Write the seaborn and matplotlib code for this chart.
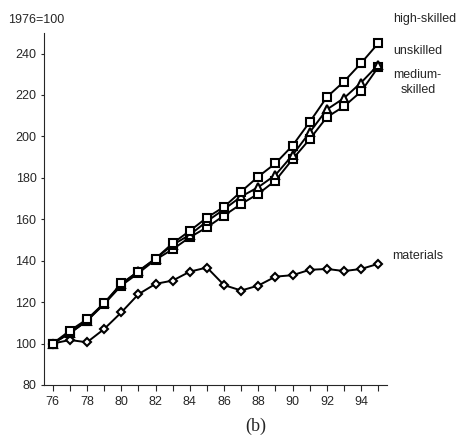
import seaborn as sns
import matplotlib.pyplot as plt
from matplotlib.ticker import MultipleLocator

# Index values, 1976 = 100
years = list(range(76, 96))
high_skilled = [100, 106.2, 111.7, 119.5, 129, 134.7, 141, 148.4, 154.4, 160.8,
                166, 173.4, 180.6, 187, 195.6, 207, 219, 226.5, 235.4, 245]
medium_skilled = [100, 105, 111, 119.5, 128.5, 135, 141, 147.6, 152.5, 159,
                  164.8, 171, 175.5, 181.4, 191, 202, 213, 218.5, 226, 234.6]
unskilled = [100, 105, 111, 119, 128, 134, 140.5, 145.5, 151.3, 156.1,
             161.8, 167.4, 172.3, 178.7, 189, 198.7, 209.3, 214.5, 221.7, 233.5]
materials = [100, 101.7, 100.6, 107, 115, 123.8, 128.8, 130.4, 134.7, 136.7,
             128.2, 125.6, 128, 132.3, 133, 135.6, 136, 135, 136, 138.5]

sns.set_style('ticks')
plt.rcParams['font.family'] = ['Liberation Sans', 'DejaVu Sans']

fig = plt.figure(figsize=(4.6, 4.44), dpi=100)
ax = fig.add_axes([0.096, 0.133, 0.745, 0.793])

# (values, marker, marker size)
lines = [(materials, 'D', 4.2), (unskilled, 's', 5.8),
         (medium_skilled, '^', 5.8), (high_skilled, 's', 5.8)]
for vals, mk, ms in lines:
    sns.lineplot(x=years, y=vals, color='black', linewidth=1.4, marker=mk,
                 markersize=ms, markerfacecolor='white', markeredgecolor='black',
                 markeredgewidth=1.5, ax=ax)

ax.set_xlim(75.5, 95.5)
ax.set_ylim(80, 250)
ax.set_yticks(range(80, 250, 20))
ax.xaxis.set_major_locator(MultipleLocator(2))
ax.xaxis.set_minor_locator(MultipleLocator(1))
ax.tick_params(axis='x', which='both', length=4, width=0.8, labelsize=9, pad=4)
ax.tick_params(axis='y', length=2, width=0.8, labelsize=9)
sns.despine(ax=ax)

fig.text(0.018, 0.955, '1976=100', fontsize=9, va='center')
fig.text(0.855, 0.958, 'high-skilled', fontsize=9, va='center')
fig.text(0.855, 0.886, 'unskilled', fontsize=9, va='center')
fig.text(0.855, 0.831, 'medium-', fontsize=9, va='center')
fig.text(0.87, 0.797, 'skilled', fontsize=9, va='center')
fig.text(0.852, 0.423, 'materials', fontsize=9, va='center')
fig.text(0.555, 0.04, '(b)', fontsize=13, ha='center', va='center',
         family=['Liberation Serif', 'DejaVu Serif'])

fig.savefig('out.png', dpi=100)
